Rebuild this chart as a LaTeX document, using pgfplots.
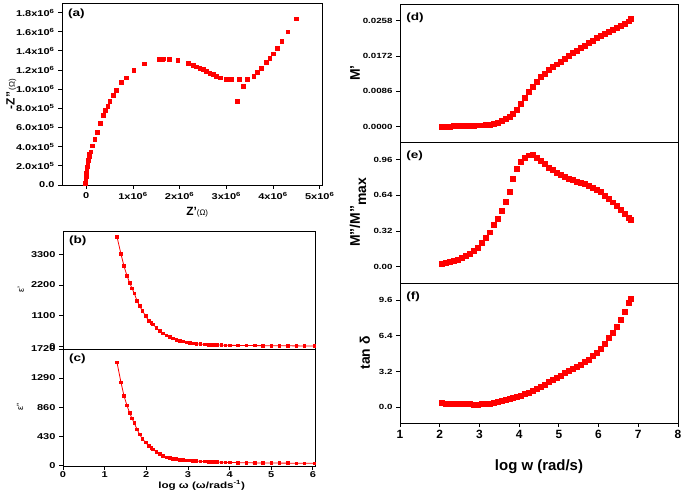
\documentclass[border=0pt]{standalone}
\usepackage{fontspec}
\setmainfont{Liberation Sans}
\newfontfamily\wf{Liberation Sans}[FakeStretch=1.3]
\usepackage{pgfplots}
\pgfplotsset{compat=1.18}

\pgfplotsset{
  panel/.style={
    scale only axis, anchor=south west,
    axis line style={line width=0.9pt},
    every tick/.style={black, line width=0.9pt},
    tick align=outside, major tick length=4pt,
    xtick pos=bottom, ytick pos=left,
    tick label style={font=\wf\bfseries\fontsize{8.5}{10}\selectfont},
    /pgf/number format/assume math mode=true,
    scaled ticks=false,
    clip mode=individual,
  },
  redsq/.style={red, only marks, mark=square*, mark size=2pt},
  redln/.style={red, line width=0.8pt, mark=square*, mark size=1.3pt},
}
\tikzset{lab/.style={anchor=north west, font=\wf\bfseries\fontsize{10.5}{12}\selectfont}}

\begin{document}
\begin{tikzpicture}
\path[use as bounding box] (0,0) rectangle (685bp,490bp);

% (a) Nyquist plot
\begin{axis}[panel, at={(62bp,305bp)}, width=260bp, height=182bp,
  xmin=-0.52e6, xmax=5.05e6, ymin=0, ymax=1.9e6,
  xtick={0,1e6,2e6,3e6,4e6,5e6},
  xticklabels={0,1x10\textsuperscript{6},2x10\textsuperscript{6},3x10\textsuperscript{6},4x10\textsuperscript{6},5x10\textsuperscript{6}},
  ytick={0,2e5,4e5,6e5,8e5,1e6,1.2e6,1.4e6,1.6e6,1.8e6},
  yticklabels={0.0,2.0x10\textsuperscript{5},4.0x10\textsuperscript{5},6.0x10\textsuperscript{5},8.0x10\textsuperscript{5},1.0x10\textsuperscript{6},1.2x10\textsuperscript{6},1.4x10\textsuperscript{6},1.6x10\textsuperscript{6},1.8x10\textsuperscript{6}},
  ylabel={{\bfseries\fontsize{12}{12}\selectfont -Z''}\,{\fontsize{8}{8}\selectfont(Ω)}},
  ylabel style={at={(axis description cs:-0.195,0.5)}, anchor=center},
  xlabel={{\bfseries\fontsize{12}{12}\selectfont Z'}{\fontsize{8}{8}\selectfont(Ω)}},
  xlabel style={at={(axis description cs:0.52,-0.148)}, anchor=center},
]
\addplot[redsq, mark size=1.9pt] coordinates {
(-0.021e6,0.017e6)(-0.014e6,0.052e6)(-0.007e6,0.087e6)(0,0.122e6)(0.007e6,0.156e6)
(0.014e6,0.191e6)(0.029e6,0.226e6)(0.043e6,0.260e6)(0.057e6,0.295e6)(0.071e6,0.323e6)
(0.093e6,0.347e6)(0.129e6,0.410e6)(0.179e6,0.479e6)(0.229e6,0.552e6)(0.300e6,0.642e6)
(0.357e6,0.729e6)(0.407e6,0.781e6)(0.457e6,0.823e6)(0.500e6,0.871e6)(0.571e6,0.934e6)
(0.643e6,0.990e6)(0.743e6,1.076e6)(0.857e6,1.121e6)(1.014e6,1.198e6)(1.243e6,1.267e6)
(1.550e6,1.312e6)(1.621e6,1.316e6)(1.657e6,1.319e6)(1.771e6,1.316e6)(1.957e6,1.302e6)
(2.179e6,1.274e6)(2.286e6,1.253e6)(2.357e6,1.236e6)(2.429e6,1.219e6)(2.500e6,1.205e6)
(2.571e6,1.187e6)(2.643e6,1.170e6)(2.714e6,1.156e6)(2.786e6,1.139e6)(2.871e6,1.121e6)
(3.000e6,1.101e6)(3.100e6,1.104e6)(3.229e6,0.875e6)(3.271e6,1.104e6)(3.357e6,1.031e6)
(3.443e6,1.101e6)(3.586e6,1.135e6)(3.657e6,1.174e6)(3.743e6,1.222e6)(3.850e6,1.281e6)
(3.929e6,1.326e6)(4.000e6,1.371e6)(4.086e6,1.430e6)(4.186e6,1.503e6)(4.314e6,1.601e6)
(4.493e6,1.736e6)
};
\node[lab] at (rel axis cs:0.01,0.985) {(a)};
\end{axis}

% (b) epsilon'
\begin{axis}[panel, at={(63bp,141bp)}, width=252bp, height=118bp,
  xmin=0, xmax=6.05, ymin=-96, ymax=4140,
  xtick=\empty,
  ytick={0,1100,2200,3300}, yticklabels={0,1100,2200,3300},
  ylabel={ε'}, ylabel style={at={(axis description cs:-0.167,0.5)}, anchor=center, font=\fontsize{9}{10}\selectfont},
]
\addplot[redln] coordinates {
(1.296,3934)(1.392,3312)(1.464,2882)(1.536,2535)(1.600,2284)(1.656,2080)(1.712,1901)
(1.776,1638)(1.840,1447)(1.904,1279)(1.984,1088)(2.064,909)(2.120,849)(2.160,789)
(2.240,670)(2.320,550)(2.400,466)(2.480,395)(2.560,335)(2.640,283)(2.720,240)
(2.800,203)(2.880,172)(2.960,145)(3.040,125)(3.120,108)(3.200,94)(3.300,80)
(3.400,68)(3.500,60)(3.600,52)(3.700,47)(3.800,43)(3.900,39)(4.000,36)(4.200,32)
(4.400,28)(4.600,26)(4.800,24)(5.000,22)(5.200,20)(5.400,18)(5.600,16)(5.800,14)(6.040,12)
};
\node[lab] at (rel axis cs:0.01,0.985) {(b)};
\end{axis}

% (c) epsilon''
\begin{axis}[panel, at={(63bp,24bp)}, width=252bp, height=117bp,
  xmin=0, xmax=6.05, ymin=-10, ymax=1720,
  xtick={0,1,2,3,4,5,6}, xticklabels={0,1,2,3,4,5,6},
  xticklabel style={yshift=1.5pt},
  ytick={0,430,860,1290,1720}, yticklabels={0,430,860,1290,1720},
  ylabel={ε''}, ylabel style={at={(axis description cs:-0.17,0.5)}, anchor=center, font=\fontsize{9}{10}\selectfont},
  xlabel={\bfseries log ω (ω/rads\textsuperscript{-1})},
  xlabel style={at={(axis description cs:0.55,-0.168)}, anchor=center, font=\wf\fontsize{9}{10}\selectfont},
]
\addplot[redln] coordinates {
(1.296,1522)(1.392,1226)(1.464,1028)(1.536,885)(1.600,776)(1.656,692)(1.712,623)
(1.776,534)(1.840,455)(1.904,395)(1.984,336)(2.064,287)(2.120,257)(2.160,237)
(2.240,198)(2.320,168)(2.400,138)(2.480,119)(2.560,108)(2.640,99)(2.720,91)
(2.800,84)(2.880,79)(2.960,74)(3.040,70)(3.120,66)(3.200,62)(3.300,59)(3.400,56)
(3.500,53)(3.600,50)(3.700,48)(3.800,46)(3.900,44)(4.000,42)(4.200,40)(4.400,38)
(4.600,36)(4.800,35)(5.000,34)(5.200,33)(5.400,32)(5.600,31)(5.800,30)(6.040,30)
};
\node[lab] at (rel axis cs:0.01,0.985) {(c)};
\end{axis}

% (d) M'
\begin{axis}[panel, at={(400bp,348bp)}, width=278bp, height=138bp,
  xmin=1, xmax=8, ymin=-0.0038, ymax=0.0299,
  xtick=\empty,
  ytick={0,0.0086,0.0172,0.0258}, yticklabels={0.0000,0.0086,0.0172,0.0258},
  yticklabel style={font=\wf\bfseries\fontsize{7.5}{9}\selectfont},
  ylabel={M'}, ylabel style={at={(axis description cs:-0.162,0.5)}, anchor=center, font=\bfseries\fontsize{14}{15}\selectfont},
]
\addplot[redsq, mark size=2.5pt] coordinates {
(2.05,0.0000)(2.15,0.0000)(2.25,0.0000)(2.35,0.0001)(2.45,0.0001)(2.55,0.0001)
(2.65,0.0001)(2.75,0.0002)(2.85,0.0002)(2.95,0.0003)(3.05,0.0003)(3.15,0.0004)
(3.25,0.0005)(3.35,0.0007)(3.45,0.0009)(3.55,0.0013)(3.65,0.0018)(3.75,0.0024)
(3.85,0.0032)(3.95,0.0042)(4.05,0.0055)(4.15,0.0070)(4.25,0.0084)(4.35,0.0097)
(4.45,0.0110)(4.55,0.0121)(4.65,0.0129)(4.75,0.0138)(4.85,0.0145)(4.95,0.0152)
(5.05,0.0159)(5.15,0.0166)(5.25,0.0173)(5.35,0.0179)(5.45,0.0186)(5.55,0.0192)
(5.65,0.0198)(5.75,0.0204)(5.85,0.0210)(5.95,0.0216)(6.05,0.0222)(6.15,0.0227)
(6.25,0.0232)(6.35,0.0237)(6.45,0.0242)(6.55,0.0247)(6.65,0.0252)(6.75,0.0257)(6.82,0.0263)
};
\node[lab] at (rel axis cs:0.01,0.96) {(d)};
\end{axis}

% (e) M''/M''max
\begin{axis}[panel, at={(400bp,207bp)}, width=278bp, height=141bp,
  xmin=1, xmax=8, ymin=-0.144, ymax=1.116,
  xtick=\empty,
  ytick={0,0.32,0.64,0.96}, yticklabels={0.00,0.32,0.64,0.96},
  yticklabel style={font=\wf\bfseries\fontsize{7.5}{9}\selectfont},
  ylabel={M''/M''\raisebox{-0.45em}{max}}, ylabel style={at={(axis description cs:-0.151,0.5)}, anchor=center, font=\bfseries\fontsize{14}{15}\selectfont},
]
\addplot[redsq, mark size=2.5pt] coordinates {
(2.05,0.030)(2.15,0.037)(2.25,0.045)(2.35,0.055)(2.45,0.067)(2.55,0.081)
(2.65,0.098)(2.75,0.118)(2.85,0.141)(2.95,0.172)(3.05,0.215)(3.15,0.26)
(3.25,0.31)(3.35,0.375)(3.45,0.43)(3.55,0.50)(3.65,0.58)(3.75,0.67)
(3.85,0.79)(3.95,0.88)(4.05,0.94)(4.15,0.975)(4.25,0.998)(4.35,1.000)
(4.45,0.98)(4.55,0.95)(4.65,0.92)(4.75,0.89)(4.85,0.865)(4.95,0.84)
(5.05,0.82)(5.15,0.805)(5.25,0.79)(5.35,0.776)(5.45,0.765)(5.55,0.752)
(5.65,0.740)(5.75,0.725)(5.85,0.708)(5.95,0.690)(6.05,0.668)(6.15,0.640)
(6.25,0.610)(6.35,0.578)(6.45,0.545)(6.55,0.51)(6.65,0.475)(6.75,0.44)(6.82,0.42)
};
\node[lab] at (rel axis cs:0.01,0.96) {(e)};
\end{axis}

% (f) tan delta
\begin{axis}[panel, at={(400bp,67bp)}, width=278bp, height=140bp,
  xmin=1, xmax=8, ymin=-1.44, ymax=11.16,
  xtick={1,2,3,4,5,6,7,8},
  xticklabel style={font=\bfseries\fontsize{12}{13}\selectfont},
  ytick={0,3.2,6.4,9.6}, yticklabels={0.0,3.2,6.4,9.6},
  yticklabel style={font=\wf\bfseries\fontsize{7.5}{9}\selectfont},
  ylabel={tan δ}, ylabel style={at={(axis description cs:-0.126,0.5)}, anchor=center, font=\bfseries\fontsize{14}{15}\selectfont},
  xlabel={log w (rad/s)}, xlabel style={at={(axis description cs:0.5,-0.314)}, anchor=center, font=\bfseries\fontsize{15}{16}\selectfont},
]
\addplot[redsq, mark size=2.5pt] coordinates {
(2.05,0.36)(2.15,0.34)(2.25,0.32)(2.35,0.31)(2.45,0.30)(2.55,0.28)(2.65,0.27)
(2.75,0.26)(2.85,0.25)(2.95,0.25)(3.05,0.26)(3.15,0.28)(3.25,0.32)(3.35,0.38)
(3.45,0.46)(3.55,0.55)(3.65,0.64)(3.75,0.74)(3.85,0.84)(3.95,0.94)(4.05,1.05)
(4.15,1.18)(4.25,1.31)(4.35,1.46)(4.45,1.64)(4.55,1.83)(4.65,2.03)(4.75,2.25)
(4.85,2.46)(4.95,2.66)(5.05,2.86)(5.15,3.05)(5.25,3.24)(5.35,3.43)(5.45,3.62)
(5.55,3.83)(5.65,4.05)(5.75,4.30)(5.85,4.58)(5.95,4.90)(6.05,5.28)(6.15,5.72)
(6.25,6.20)(6.35,6.70)(6.45,7.25)(6.55,7.85)(6.65,8.55)(6.75,9.35)(6.80,9.75)
};
\node[lab] at (rel axis cs:0.01,0.96) {(f)};
\end{axis}
\end{tikzpicture}
\end{document}
